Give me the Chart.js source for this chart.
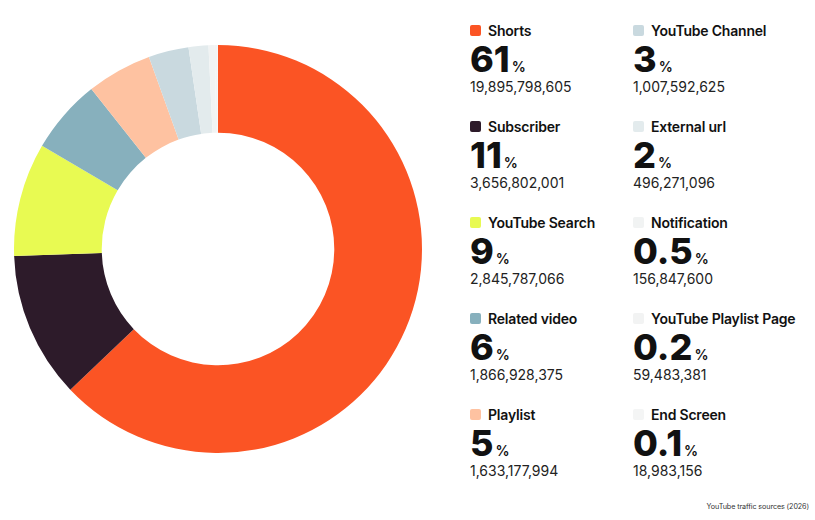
<!DOCTYPE html>
<html>
<head>
<meta charset="utf-8">
<script src="https://cdn.jsdelivr.net/npm/chart.js@4.4.1/dist/chart.umd.min.js"></script>
<style>
  body { margin: 0; background: #fff; font-family: Inter, "Noto Sans", sans-serif; }
  #page { position: relative; width: 815px; height: 520px; overflow: hidden; }
  #chartBox { position: absolute; left: 14px; top: 45px; width: 408px; height: 408px; }
  .item { position: absolute; width: 170px; color: #111; }
  .item .lab { display: flex; align-items: center; height: 18px; font-size: 14px; font-weight: 600; letter-spacing: -0.2px; }
  .item .sq { width: 11px; height: 11px; border-radius: 2px; margin-right: 7px; }
  .item .big { margin-top: 2px; height: 36px; line-height: 36px; font-size: 36px; font-weight: 800; letter-spacing: 0px; }
  .item .big span { font-size: 14px; font-weight: 600; margin-left: 2px; }
  .item .cnt { font-size: 14px; font-weight: 400; line-height: 16px; margin-top: 2px; color: #222; }
  #note { position: absolute; right: 6px; bottom: 9px; font-size: 7.2px; color: #333; letter-spacing: -0.1px; }
</style>
</head>
<body>
<div id="page">
  <div id="chartBox"><canvas id="graphique-sources"></canvas></div>
  <div id="legende"></div>
  <div id="note">YouTube traffic sources (2026)</div>
</div>
<script>
const categories = ["Shorts", "Subscriber", "YouTube Search", "Related video", "Playlist",
  "YouTube Channel", "External url", "Notification", "YouTube Playlist Page", "End Screen"];
const vues = [19895798605, 3656802001, 2845787066, 1866928375, 1633177994,
  1007592625, 496271096, 156847600, 59483381, 18983156];
const pourcentages = ["61", "11", "9", "6", "5", "3", "2", "0.5", "0.2", "0.1"];
const couleurs = ["#fb5424", "#2d1b2a", "#e8fa52", "#87b0bd", "#fec2a1",
  "#c9d9df", "#e3ebed", "#f1f3f3", "#f2f3f3", "#f4f5f5"];

// Légende personnalisée sur la droite
const legende = document.querySelector("#legende");
for (let i = 0; i < categories.length; i++) {
  const col = i < 5 ? 0 : 1;
  const row = i % 5;
  const item = document.createElement("div");
  item.className = "item";
  item.style.left = (col === 0 ? 470 : 633) + "px";
  item.style.top = (21 + row * 96) + "px";
  item.innerHTML = `<div class="lab"><div class="sq" style="background:${couleurs[i]}"></div>${categories[i]}</div>
    <div class="big">${pourcentages[i]}<span>%</span></div>
    <div class="cnt">${vues[i].toLocaleString("en-US")}</div>`;
  legende.appendChild(item);
}

const data = {
  labels: categories,
  datasets: [{
    data: vues,
    backgroundColor: couleurs,
    borderWidth: 0,
  }],
};

const config = {
  type: "doughnut",
  data: data,
  options: {
    responsive: true,
    maintainAspectRatio: false,
    animation: false,
    cutout: "57%",
    layout: { padding: 0 },
    plugins: {
      legend: { display: false },
      tooltip: { enabled: false },
    },
  },
};

new Chart(document.querySelector("#graphique-sources"), config);
</script>
</body>
</html>
